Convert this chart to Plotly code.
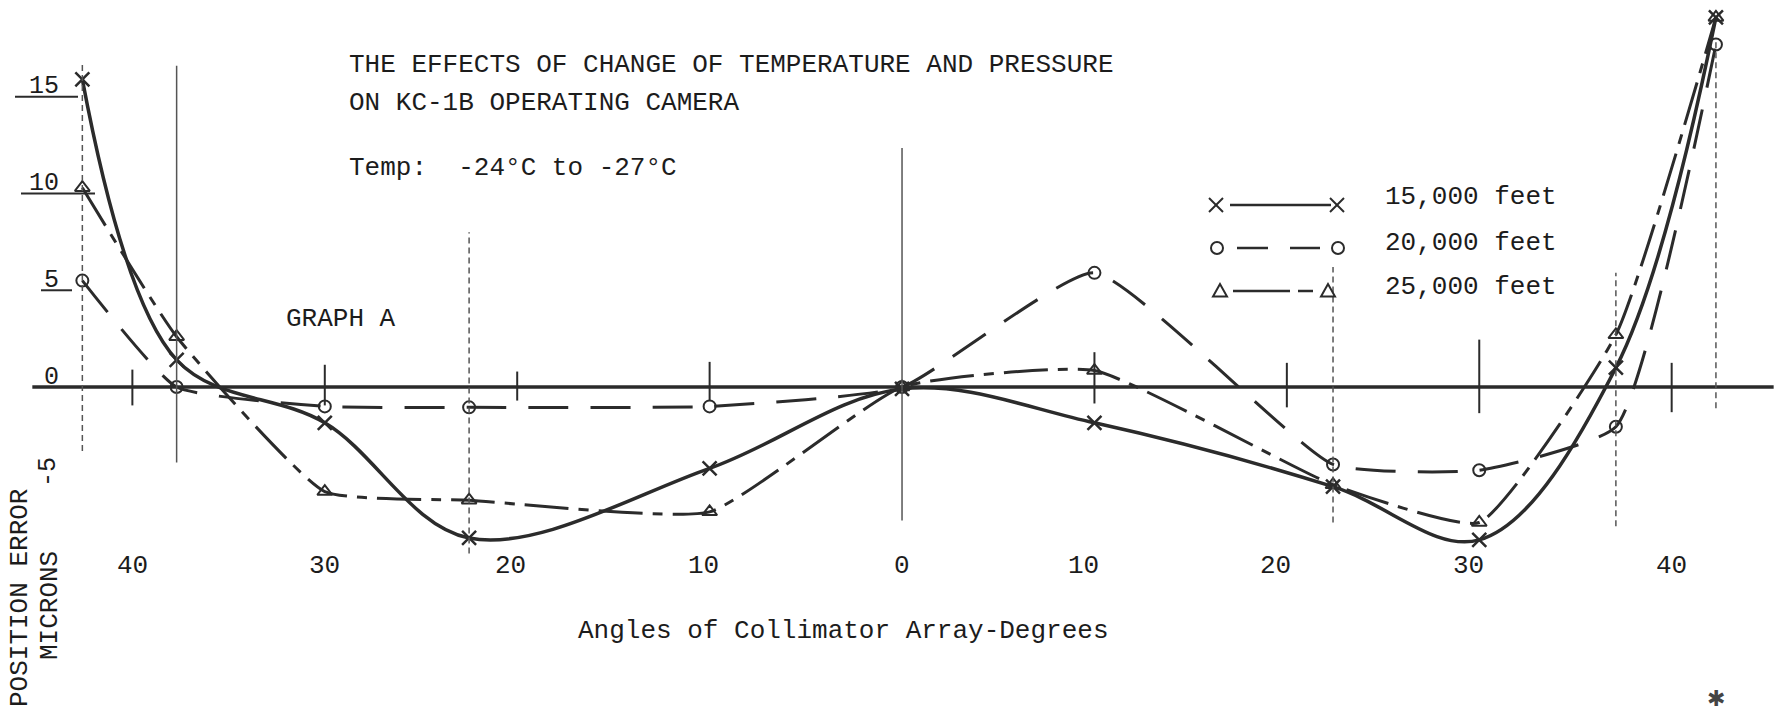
import plotly.graph_objects as go

W, H = 1775, 710

# ---------------- data ----------------
angles = [-42.6, -37.7, -30, -22.5, -10, 0, 10, 22.4, 30, 37.1, 42.3]
err_15k = [15.9, 1.4, -1.85, -7.8, -4.2, -0.1, -1.85, -5.15, -7.9, 1.0, 19.1]
err_20k = [5.5, 0.0, -1.0, -1.05, -1.0, 0.0, 5.9, -4.0, -4.3, -2.05, 17.7]
err_25k = [10.3, 2.6, -5.4, -5.85, -6.45, 0.0, 0.85, -5.05, -7.0, 2.7, 19.1]
series_names = ["15,000 feet", "20,000 feet", "25,000 feet"]

x_tick_vals = [-40, -30, -20, -10, 0, 10, 20, 30, 40]
x_tick_text = ["40", "30", "20", "10", "0", "10", "20", "30", "40"]
y_tick_vals = [15, 10, 5, 0]
y_tick_text = ["15", "10", "5", "0"]
guide_angles = [-42.6, -37.7, -22.5, 0, 22.4, 37.1, 42.3]

# ---------------- styling ----------------
INK = "#2b2b2b"
TXT = "#1c1c1c"
FONT = "Liberation Mono, Courier New, monospace"
X_RANGE = [-46.88, 45.37]
Y_RANGE = [-16.69, 20.0]


def px(x):
    return x / W


def py(y):
    return 1 - y / H


fig = go.Figure()

fig.add_trace(go.Scatter(
    x=angles, y=err_15k, name=series_names[0], mode="lines+markers",
    line=dict(color=INK, width=3.5, shape="spline", smoothing=1.0),
    marker=dict(symbol="x-thin-open", size=14, line=dict(color=INK, width=2.5)),
))
fig.add_trace(go.Scatter(
    x=angles, y=err_20k, name=series_names[1], mode="lines+markers",
    line=dict(color=INK, width=3, dash="40px,22px", shape="spline", smoothing=0.45),
    marker=dict(symbol="circle-open", size=12, color=INK, line=dict(color=INK, width=2)),
))
fig.add_trace(go.Scatter(
    x=angles, y=err_25k, name=series_names[2], mode="lines+markers",
    line=dict(color=INK, width=3, dash="44px,10px,10px,10px", shape="spline", smoothing=0.45),
    marker=dict(symbol="triangle-up-open", size=13, color=INK, line=dict(color=INK, width=2)),
))

shapes = []
ann = []

# horizontal zero axis
shapes.append(dict(type="line", xref="x", yref="y", x0=-45.2, x1=45.3, y0=0, y1=0,
                   line=dict(color=INK, width=3.5)))

# vertical guide lines at the collimator angles
guide_top = [16.8, 16.6, 8.0, 12.35, 6.2, 5.9, 18.0]
guide_bot = [-3.3, -3.9, -8.6, -6.9, -7.0, -7.2, -1.1]
guide_dash = ["6px,4px", "solid", "6px,4px", "solid", "6px,4px", "6px,4px", "6px,4px"]
for g, t, b, d in zip(guide_angles, guide_top, guide_bot, guide_dash):
    shapes.append(dict(type="line", xref="x", yref="y", x0=g, x1=g, y0=b, y1=t,
                       line=dict(color="#555", width=1.5, dash=d)))

# tick marks crossing the axis
tick_up = [0.9, 1.15, 0.8, 1.3, None, 1.8, 1.25, 2.45, 1.25]
tick_dn = [0.95, 0.95, 0.7, 0.7, None, 0.85, 1.05, 1.35, 1.3]
for v, u, d in zip(x_tick_vals, tick_up, tick_dn):
    if u is None:
        continue
    shapes.append(dict(type="line", xref="x", yref="y", x0=v, x1=v, y0=-d, y1=u,
                       line=dict(color=INK, width=2)))

# x tick labels
label_shift = [0, 0, -7, -6, 0, -11, -11, -11, 0]
for v, t, s in zip(x_tick_vals, x_tick_text, label_shift):
    ann.append(dict(x=v, y=py(566), xref="x", yref="paper", text=t, showarrow=False,
                    xshift=s, xanchor="center", yanchor="middle",
                    font=dict(family=FONT, size=26, color=TXT)))

# y tick labels with hand-drawn underlines
ul_left = [15, 21, 41, None]
ul_right = [78, 95, 72, None]
for v, t, l, r in zip(y_tick_vals, y_tick_text, ul_left, ul_right):
    ann.append(dict(x=px(61), y=v, xref="paper", yref="y", text=t, showarrow=False,
                    xanchor="right", yanchor="middle", yshift=10,
                    font=dict(family=FONT, size=25, color=TXT)))
    if l is not None:
        shapes.append(dict(type="line", xref="paper", yref="y", x0=px(l), x1=px(r), y0=v, y1=v,
                           line=dict(color=INK, width=2)))

# titles
for txt, yy in [("THE EFFECTS OF CHANGE OF TEMPERATURE AND PRESSURE", 65),
                ("ON KC-1B OPERATING CAMERA", 103),
                ("Temp:  -24°C to -27°C", 168)]:
    ann.append(dict(x=px(347), y=py(yy), xref="paper", yref="paper", text=txt,
                    showarrow=False, xanchor="left", yanchor="middle",
                    font=dict(family=FONT, size=26, color=TXT)))

ann.append(dict(x=px(284), y=py(319), xref="paper", yref="paper", text="GRAPH A",
                showarrow=False, xanchor="left", yanchor="middle",
                font=dict(family=FONT, size=26, color=TXT)))

ann.append(dict(x=px(843), y=py(631), xref="paper", yref="paper",
                text="Angles of Collimator Array-Degrees", showarrow=False,
                xanchor="center", yanchor="middle",
                font=dict(family=FONT, size=26, color=TXT)))

# y-axis title (rotated)
ann.append(dict(x=px(20), y=py(598), xref="paper", yref="paper", text="POSITION ERROR",
                showarrow=False, textangle=-90, xanchor="center", yanchor="middle",
                font=dict(family=FONT, size=26, color=TXT)))
ann.append(dict(x=px(50), y=py(606), xref="paper", yref="paper", text="MICRONS",
                showarrow=False, textangle=-90, xanchor="center", yanchor="middle",
                font=dict(family=FONT, size=26, color=TXT)))
ann.append(dict(x=px(48), y=py(472), xref="paper", yref="paper", text="-5",
                showarrow=False, textangle=-90, xanchor="center", yanchor="middle",
                font=dict(family=FONT, size=25, color=TXT)))

# stray pencil mark at the bottom right of the scan
ann.append(dict(x=px(1716), y=py(698), xref="paper", yref="paper", text="✱",
                showarrow=False, xanchor="center", yanchor="middle",
                font=dict(family="DejaVu Sans", size=22, color="#444")))

# custom legend
leg_rows = [205, 248, 291]
leg_text_y = [197, 243, 287]
for name, ty in zip(series_names, leg_text_y):
    ann.append(dict(x=px(1383), y=py(ty), xref="paper", yref="paper", text=name,
                    showarrow=False, xanchor="left", yanchor="middle",
                    font=dict(family=FONT, size=26, color=TXT)))


def seg(x0, x1, y, w=2.5):
    shapes.append(dict(type="line", xref="paper", yref="paper", x0=px(x0), x1=px(x1),
                       y0=py(y), y1=py(y), line=dict(color=INK, width=w)))


def xmark(cx, cy, r=7):
    for dx in (-1, 1):
        shapes.append(dict(type="line", xref="paper", yref="paper",
                           x0=px(cx - r), x1=px(cx + r), y0=py(cy + dx * r), y1=py(cy - dx * r),
                           line=dict(color=INK, width=2)))


def circ(cx, cy, r=6):
    shapes.append(dict(type="circle", xref="paper", yref="paper",
                       x0=px(cx - r), x1=px(cx + r), y0=py(cy + r), y1=py(cy - r),
                       line=dict(color=INK, width=2)))


def tri(cx, cy, r=7):
    path = "M {} {} L {} {} L {} {} Z".format(px(cx), py(cy - r), px(cx - r), py(cy + r * 0.8),
                                             px(cx + r), py(cy + r * 0.8))
    shapes.append(dict(type="path", xref="paper", yref="paper", path=path,
                       line=dict(color=INK, width=2)))


# 15,000 ft
xmark(1216, leg_rows[0]); seg(1230, 1331, leg_rows[0]); xmark(1337, leg_rows[0])
# 20,000 ft
circ(1217, leg_rows[1]); seg(1237, 1268, leg_rows[1]); seg(1290, 1320, leg_rows[1]); circ(1338, leg_rows[1])
# 25,000 ft
tri(1220, leg_rows[2]); seg(1233, 1290, leg_rows[2]); seg(1298, 1313, leg_rows[2]); tri(1328, leg_rows[2])

fig.update_layout(
    width=W, height=H,
    margin=dict(l=0, r=0, t=0, b=0),
    paper_bgcolor="white", plot_bgcolor="white",
    showlegend=False,
    xaxis=dict(range=X_RANGE, visible=False, showgrid=False, zeroline=False),
    yaxis=dict(range=Y_RANGE, visible=False, showgrid=False, zeroline=False),
    shapes=shapes, annotations=ann,
)

fig.write_html("out.html", config={"displayModeBar": False},
               post_script="document.body.style.margin='0px';")
